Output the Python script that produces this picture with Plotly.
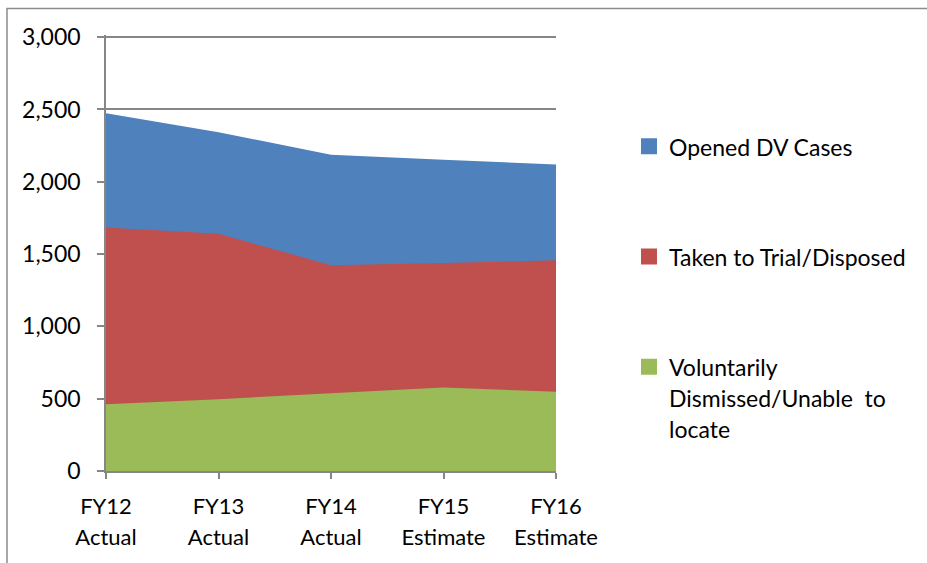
import plotly.graph_objects as go

# ---- data ----
categories = ["FY12", "FY13", "FY14", "FY15", "FY16"]
status = ["Actual", "Actual", "Actual", "Estimate", "Estimate"]
opened_dv_cases = [2474, 2343, 2187, 2153, 2120]
taken_to_trial = [1683, 1641, 1423, 1438, 1457]
voluntarily_dismissed = [461, 497, 537, 578, 548]
y_ticks = [0, 500, 1000, 1500, 2000, 2500, 3000]

series_names = ["Opened DV Cases", "Taken to Trial/Disposed",
                "Voluntarily<br>Dismissed/Unable  to<br>locate"]
series_values = [opened_dv_cases, taken_to_trial, voluntarily_dismissed]
colors = ["#4F81BD", "#C0504D", "#9BBB59"]

FONT = "Lato, 'Liberation Sans', sans-serif"


def sized(text, size):
    return "<br>".join(
        f"<span style='font-size:{size}px'>{part}</span>" for part in text.split("<br>")
    )


fig = go.Figure()

# areas (drawn back to front, overlapping from zero)
for name, vals, col in zip(series_names, series_values, colors):
    fig.add_trace(go.Scatter(
        x=categories, y=vals, mode="none", fill="tozeroy",
        fillcolor=col, name=name.replace("<br>", " "), legendgroup=name,
        showlegend=False, hoverinfo="x+y+name",
    ))

# legend entries with square swatches
for i, (name, col) in enumerate(zip(series_names, colors)):
    fig.add_trace(go.Scatter(
        x=[None], y=[None], mode="markers",
        marker=dict(symbol="square", size=16, color=col),
        name=sized(name, 23), legendgroup=name, legendrank=i + 1, showlegend=True,
    ))

tick_text = [sized(f"{c}<br>{s}", 22) for c, s in zip(categories, status)]

fig.update_layout(
    width=927, height=563,
    margin=dict(l=106, r=371, t=35, b=92),
    paper_bgcolor="white", plot_bgcolor="white",
    font=dict(family=FONT, size=22, color="#000000"),
    showlegend=True,
    legend=dict(
        x=1.1622, xanchor="left", xref="paper",
        y=0.7955, yanchor="top", yref="paper",
        font=dict(family=FONT, size=24, color="#000000"),
        valign="top", tracegroupgap=76, traceorder="grouped",
        bgcolor="rgba(0,0,0,0)", borderwidth=0,
    ),
    xaxis=dict(
        type="category", range=[0, len(categories) - 1],
        tickmode="array", tickvals=categories, ticktext=tick_text,
        tickfont=dict(family=FONT, size=24, color="#000000"),
        showgrid=False, zeroline=False,
        showline=True, linecolor="#868686", linewidth=1.5,
        ticks="outside", ticklen=6, tickcolor="#868686", tickwidth=1.5,
        ticklabelstandoff=6,
    ),
    yaxis=dict(
        range=[0, 3015], tickmode="array", tickvals=y_ticks, tickformat=",",
        tickfont=dict(family=FONT, size=23, color="#000000"),
        showgrid=True, gridcolor="#868686", gridwidth=1.5,
        zeroline=False,
        showline=True, linecolor="#868686", linewidth=1.5,
        ticks="outside", ticklen=7, tickcolor="#868686", tickwidth=1.5,
        ticklabelstandoff=12,
    ),
    shapes=[dict(
        type="rect", xref="paper", yref="paper",
        x0=(7 - 106) / 450, x1=(940 - 106) / 450,
        y0=(471 - 580) / 436, y1=(471 - 8.5) / 436,
        line=dict(color="#8C8C8C", width=1.5), fillcolor="rgba(0,0,0,0)",
        layer="below",
    )],
)

fig.write_html("out.html", config={"displayModeBar": False},
               post_script="document.body.style.margin='0px';")
